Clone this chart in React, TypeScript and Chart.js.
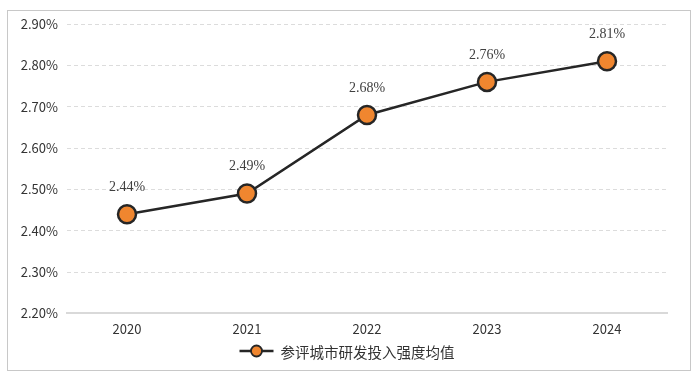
import React, { useEffect, useRef } from "react";
import { Chart, registerables } from "chart.js";

Chart.register(...registerables);

const categories = ["2020", "2021", "2022", "2023", "2024"];
const values = [2.44, 2.49, 2.68, 2.76, 2.81];
const seriesName = "参评城市研发投入强度均值";
const yMin = 2.2;
const yMax = 2.9;
const yStep = 0.1;

const LINE = "#262626";
const ORANGE = "#F0862F";
const SANS = "'Noto Sans CJK SC', 'Noto Sans', sans-serif";

const framePlugin = {
  id: "frame",
  beforeDraw(chart: any) {
    const ctx = chart.ctx;
    ctx.save();
    ctx.fillStyle = "#ffffff";
    ctx.fillRect(0, 0, chart.width, chart.height);
    ctx.strokeStyle = "#c8c8c8";
    ctx.lineWidth = 1;
    ctx.strokeRect(7.5, 10.5, 683, 360);
    ctx.restore();
  },
};

const labelPlugin = {
  id: "valueLabels",
  afterDatasetsDraw(chart: any) {
    const ctx = chart.ctx;
    const meta = chart.getDatasetMeta(0);
    ctx.save();
    ctx.font = "14px 'Liberation Serif', 'Times New Roman', serif";
    ctx.fillStyle = "#404040";
    ctx.textAlign = "center";
    ctx.textBaseline = "middle";
    meta.data.forEach((pt: any, i: number) => {
      ctx.fillText(values[i].toFixed(2) + "%", pt.x, pt.y - 27);
    });
    ctx.restore();
  },
};

const legendPlugin = {
  id: "customLegend",
  afterDraw(chart: any) {
    const ctx = chart.ctx;
    ctx.save();
    ctx.font = "14.5px " + SANS;
    const tw = ctx.measureText(seriesName).width;
    const lineW = 34;
    const gap = 7;
    const total = lineW + gap + tw;
    const cx = 347;
    const y = 351;
    const x0 = cx - total / 2;
    ctx.strokeStyle = LINE;
    ctx.lineWidth = 2.5;
    ctx.beginPath();
    ctx.moveTo(x0, y);
    ctx.lineTo(x0 + lineW, y);
    ctx.stroke();
    ctx.beginPath();
    ctx.arc(x0 + lineW / 2, y, 5.5, 0, Math.PI * 2);
    ctx.fillStyle = ORANGE;
    ctx.fill();
    ctx.lineWidth = 1.8;
    ctx.stroke();
    ctx.fillStyle = "#333333";
    ctx.textAlign = "left";
    ctx.textBaseline = "middle";
    ctx.fillText(seriesName, x0 + lineW + gap, y + 1);
    ctx.restore();
  },
};

export default function App() {
  const ref = useRef<HTMLCanvasElement | null>(null);
  useEffect(() => {
    document.body.style.margin = "0";
    if (!ref.current) return;
    const chart = new Chart(ref.current, {
      type: "line",
      data: {
        labels: categories,
        datasets: [
          {
            label: seriesName,
            data: values,
            borderColor: LINE,
            borderWidth: 2.5,
            backgroundColor: ORANGE,
            pointBackgroundColor: ORANGE,
            pointBorderColor: LINE,
            pointBorderWidth: 2.5,
            pointRadius: 9,
            tension: 0,
          },
        ],
      },
      options: {
        animation: false,
        responsive: false,
        layout: { padding: { left: 8, top: 24, right: 32, bottom: 32 } },
        plugins: { legend: { display: false }, tooltip: { enabled: false } },
        scales: {
          x: {
            offset: true,
            grid: { display: false, drawTicks: false },
            border: { display: true, color: "#d9d9d9", width: 2 },
            ticks: {
              color: "#333333",
              font: { size: 13, family: SANS },
              padding: 8,
            },
          },
          y: {
            min: yMin,
            max: yMax,
            afterFit: (s: any) => {
              s.width = 59;
            },
            grid: { color: "#dcdcdc", lineWidth: 1, drawTicks: false },
            border: { display: false, dash: [4, 3] },
            ticks: {
              stepSize: yStep,
              color: "#333333",
              font: { size: 13, family: SANS },
              padding: 9,
              callback: (v: any) => Number(v).toFixed(2) + "%",
            },
          },
        },
      },
      plugins: [framePlugin, labelPlugin, legendPlugin],
    });
    return () => chart.destroy();
  }, []);
  return <canvas ref={ref} width={699} height={377} style={{ display: "block" }} />;
}
